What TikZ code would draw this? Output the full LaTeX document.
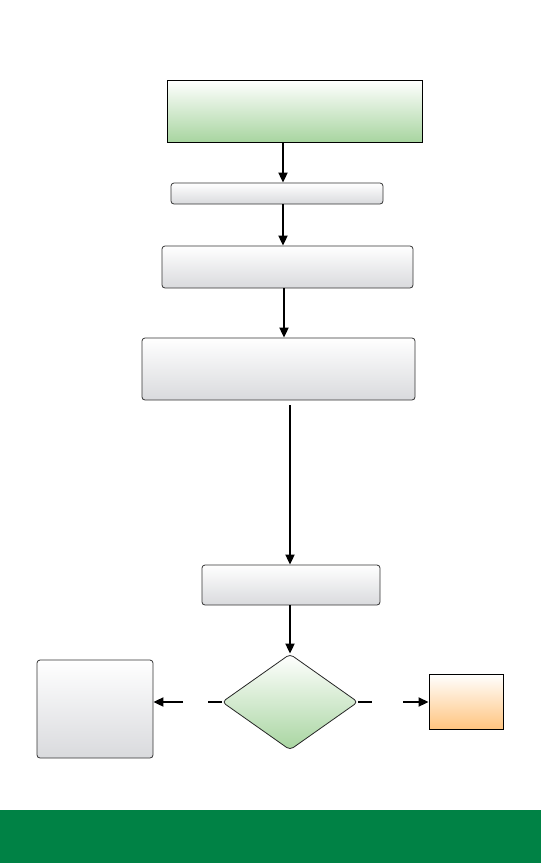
\documentclass[tikz,border=0pt]{standalone}
\usetikzlibrary{shapes.geometric,arrows.meta}
\definecolor{gbot}{HTML}{A8D5A0}
\definecolor{greybot}{HTML}{D9DADD}
\definecolor{obot}{HTML}{FFC47F}
\definecolor{barg}{HTML}{008245}
\tikzset{
  greenbox/.style={draw=black, line width=0.9pt, top color=white, bottom color=gbot, inner sep=0pt},
  greybox/.style={draw=black!80, line width=0.8pt, rounded corners=3pt, top color=white, bottom color=greybot, inner sep=0pt},
  orangebox/.style={draw=black, line width=0.9pt, top color=white, bottom color=obot, inner sep=0pt},
  decision/.style={diamond, draw=black!85, line width=0.8pt, rounded corners=4pt, top color=white, bottom color=gbot, inner sep=0pt, aspect=1.4},
  arr/.style={line width=1.8pt, -{Triangle[length=10pt,width=9pt]}},
  ln/.style={line width=1.8pt}
}
\begin{document}
\begin{tikzpicture}[x=1pt,y=-1pt]
\useasboundingbox (0,0) rectangle (541,865);
\fill[barg] (0,810) rectangle (541,863);
\node[greenbox, minimum width=255pt, minimum height=62pt] (top) at (294.5,111) {};
\node[greybox, minimum width=212pt, minimum height=21pt] (thin) at (277,193.5) {};
\node[greybox, minimum width=251pt, minimum height=42pt] (b3) at (287.5,267) {};
\node[greybox, minimum width=273pt, minimum height=62pt] (b4) at (278.5,369) {};
\node[greybox, minimum width=178pt, minimum height=40pt] (b5) at (291,585) {};
\node[decision, minimum width=136pt, minimum height=96pt] (dec) at (290,702) {};
\node[greybox, minimum width=116pt, minimum height=98pt] (left) at (95,709) {};
\node[orangebox, minimum width=74pt, minimum height=55pt] (right) at (466,701.5) {};
\coordinate (x1) at (283,0);
\coordinate (x2) at (284,0);
\coordinate (x3) at (290,0);
\coordinate (lgapA) at (208,702);
\coordinate (lgapB) at (183,702);
\coordinate (rgapA) at (372,702);
\coordinate (rgapB) at (403,702);
\draw[arr] (top.south -| x1) -- (thin.north -| x1);
\draw[arr] (thin.south -| x1) -- (b3.north -| x1);
\draw[arr] (b3.south -| x2) -- (b4.north -| x2);
\draw[arr, shorten <=5pt] (b4.south -| x3) -- (b5.north -| x3);
\draw[arr] (b5.south -| x3) -- (dec.north);
\draw[ln] (dec.west) -- (lgapA);
\draw[arr] (lgapB) -- (left.east |- lgapB);
\draw[ln] (dec.east) -- (rgapA);
\draw[arr] (rgapB) -- (right.west |- rgapB);
\end{tikzpicture}
\end{document}
